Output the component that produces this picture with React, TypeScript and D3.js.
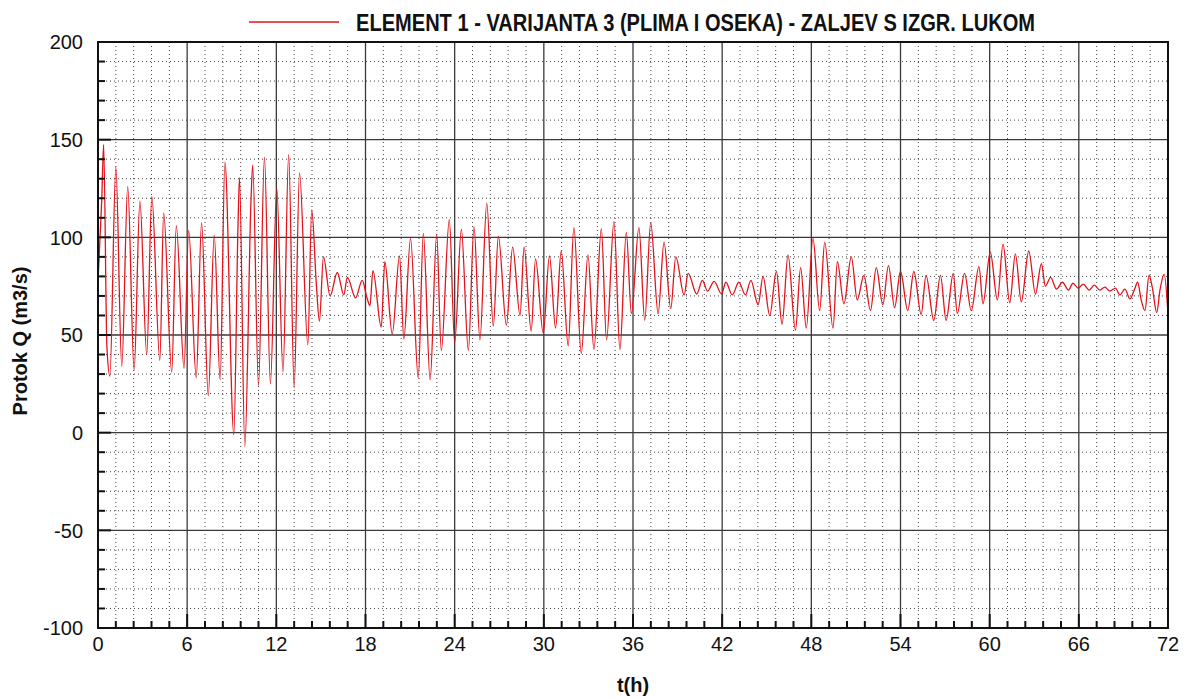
import * as d3 from "d3";

const hours = [
  0, 0.25, 0.38, 0.6, 0.8, 1.2, 1.6, 2.0, 2.43, 2.82, 3.28, 3.62, 4.16, 4.42, 4.96, 5.27, 5.79,
  6.1, 6.61, 6.97, 7.42, 7.82, 8.22, 8.54, 9.14, 9.42, 9.52, 9.88, 10.3, 10.41, 10.8, 11.2, 11.6,
  12.03, 12.45, 12.83, 13.2, 13.56, 14.12, 14.38, 14.7, 14.9, 15.17, 15.62, 16.1, 16.54, 16.78,
  17.33, 17.78, 18.1, 18.3, 18.5, 19.06, 19.3, 19.8, 20.29, 20.58, 21.03, 21.55, 21.89, 22.35,
  22.79, 23.1, 23.64, 24.0, 24.45, 24.92, 25.3, 25.7, 26.16, 26.6, 26.94, 27.48, 27.9, 28.4,
  28.67, 29.15, 29.44, 29.96, 30.38, 30.79, 31.17, 31.64, 32.02, 32.52, 32.97, 33.37, 33.87,
  34.22, 34.72, 35.12, 35.55, 35.89, 36.4, 36.79, 37.19, 37.69, 38.09, 38.54, 38.88, 39.44,
  39.71, 40.29, 40.67, 41.01, 41.46, 41.96, 42.25, 42.68, 43.12, 43.57, 43.93, 44.42, 44.75,
  45.2, 45.65, 46.03, 46.43, 46.93, 47.28, 47.66, 48.11, 48.56, 48.9, 49.46, 49.75, 50.19,
  50.69, 51.09, 51.54, 51.98, 52.37, 52.81, 53.19, 53.6, 54.0, 54.49, 54.9, 55.39, 55.72,
  56.24, 56.69, 57.07, 57.55, 57.82, 58.31, 58.76, 59.28, 59.55, 60.04, 60.52, 60.9, 61.35,
  61.73, 62.13, 62.63, 63.08, 63.48, 63.75, 64.1, 64.5, 64.9, 65.3, 65.6, 65.96, 66.3, 66.7,
  67.03, 67.42, 67.75, 68.09, 68.47, 68.76, 69.1, 69.44, 69.73, 69.96, 70.18, 70.45, 70.72,
  70.94, 71.24, 71.46, 71.75, 72,
];
const flowQ = [
  77, 119, 147.5, 44, 29, 136, 34, 126, 32, 118.5, 40, 121, 37, 112.5, 31, 106, 33,
  103.5, 28, 107.5, 19, 101, 27, 138.5, -1, 106, 130.5, -7, 120, 137, 24, 141, 25,
  125, 31, 142.5, 23, 133, 45, 114, 75, 57, 90, 70, 82, 70.5, 79.5,
  69, 78, 69, 65, 83, 54, 87.5, 50.5, 90.5, 48, 99.5, 28, 102, 27,
  101.5, 42, 109, 46, 104, 42, 105.5, 47.5, 117.5, 54.5, 100.5, 55, 95, 60,
  95, 52, 89, 51, 90.5, 53.5, 93, 44.5, 105, 40.5, 91, 42.5, 104.5,
  47.5, 108, 42.5, 102.5, 61, 105, 57.5, 107.5, 61, 97.5, 63.5, 90, 70.5,
  81.5, 71, 78, 72.5, 77.5, 71, 77, 70.5, 77, 70.5, 78, 65.5, 80,
  60, 82.5, 55.5, 91, 52.5, 84.5, 53.5, 99.5, 62.5, 97.5, 53.5, 87.5, 66,
  90, 68, 80.5, 62.5, 84.5, 65.5, 85.5, 64, 82.5, 62.5, 82.5, 60.5, 80.5,
  57.5, 80.5, 57.5, 81.5, 61, 81.5, 62.5, 85, 66, 92.5, 68, 96.5, 66.5,
  91.5, 67, 93, 71, 86.5, 75, 79.5, 73.5, 77, 73, 76.5, 74, 76, 73,
  75.5, 73, 74.5, 72.5, 74, 70.5, 73.5, 68.5, 73, 77, 68.5, 62.5, 80.5,
  74.5, 61.5, 73, 81, 60.5,
];

const xTicks = [0, 6, 12, 18, 24, 30, 36, 42, 48, 54, 60, 66, 72];
const yTicks = [-100, -50, 0, 50, 100, 150, 200];
const title = "ELEMENT 1 - VARIJANTA 3 (PLIMA I OSEKA) - ZALJEV S IZGR. LUKOM";

const W = 1193;
const H = 698;
const left = 98;
const right = 1168;
const top = 42;
const bottom = 628;
const font = "'Liberation Sans', Arial, sans-serif";

export default function App() {
  const x = d3.scaleLinear([0, 72], [left, right]);
  const y = d3.scaleLinear([-100, 200], [bottom, top]);

  const minorX = d3.range(0, 61).filter((i) => i % 5 !== 0).map((i) => i * 1.2);
  const minorY = d3.range(-100, 201, 10).filter((v) => v % 50 !== 0);

  const line = d3
    .line<number>()
    .x((_, i) => x(hours[i]))
    .y((d) => y(d))
    .curve(d3.curveMonotoneX);

  return (
    <svg
      width={W}
      height={H}
      style={{ position: "absolute", left: 0, top: 0, background: "#fff" }}
      fontFamily={font}
    >
      {/* dotted minor grid */}
      <g stroke="#444" strokeWidth={1} strokeDasharray="1,3">
        {minorX.map((t) => (
          <line key={"mx" + t} x1={x(t)} x2={x(t)} y1={top} y2={bottom} />
        ))}
        {minorY.map((v) => (
          <line key={"my" + v} x1={left} x2={right} y1={y(v)} y2={y(v)} />
        ))}
      </g>
      {/* major grid */}
      <g stroke="#3a3a3a" strokeWidth={1.3}>
        {xTicks.slice(1, -1).map((t) => (
          <line key={"gx" + t} x1={x(t)} x2={x(t)} y1={top} y2={bottom} />
        ))}
        {yTicks.slice(1, -1).map((v) => (
          <line key={"gy" + v} x1={left} x2={right} y1={y(v)} y2={y(v)} />
        ))}
      </g>

      <path d={line(flowQ) || undefined} fill="none" stroke="#e3121b" strokeWidth={1.3} />

      {/* frame and inward ticks */}
      <rect x={left} y={top} width={right - left} height={bottom - top} fill="none" stroke="#111" strokeWidth={2} />
      <g stroke="#111" strokeWidth={2}>
        {minorY.map((v) => (
          <line key={"ty" + v} x1={left} x2={left + 7} y1={y(v)} y2={y(v)} />
        ))}
        {yTicks.map((v) => (
          <line key={"Ty" + v} x1={left} x2={left + 13} y1={y(v)} y2={y(v)} />
        ))}
        {minorX.map((t) => (
          <line key={"tx" + t} x1={x(t)} x2={x(t)} y1={bottom} y2={bottom - 7} />
        ))}
        {xTicks.map((t) => (
          <line key={"Tx" + t} x1={x(t)} x2={x(t)} y1={bottom} y2={bottom - 14} />
        ))}
      </g>

      <g fontSize={20} fill="#111">
        {yTicks.map((v) => (
          <text key={"ly" + v} x={83} y={y(v)} dy="0.36em" textAnchor="end">
            {v}
          </text>
        ))}
        {xTicks.map((t) => (
          <text key={"lx" + t} x={x(t)} y={651} textAnchor="middle">
            {t}
          </text>
        ))}
      </g>

      <text x={633} y={692} textAnchor="middle" fontSize={20} fontWeight="bold" fill="#111">
        t(h)
      </text>
      <text
        transform="translate(27,341) rotate(-90)"
        textAnchor="middle"
        fontSize={20}
        fontWeight="bold"
        fill="#111"
      >
        Protok Q (m3/s)
      </text>

      <line x1={249} x2={339} y1={22} y2={22} stroke="#e3121b" strokeWidth={1.5} />
      <text
        x={356}
        y={31}
        fontSize={24}
        fontWeight="bold"
        fill="#111"
        textLength={679}
        lengthAdjust="spacingAndGlyphs"
      >
        {title}
      </text>
    </svg>
  );
}
